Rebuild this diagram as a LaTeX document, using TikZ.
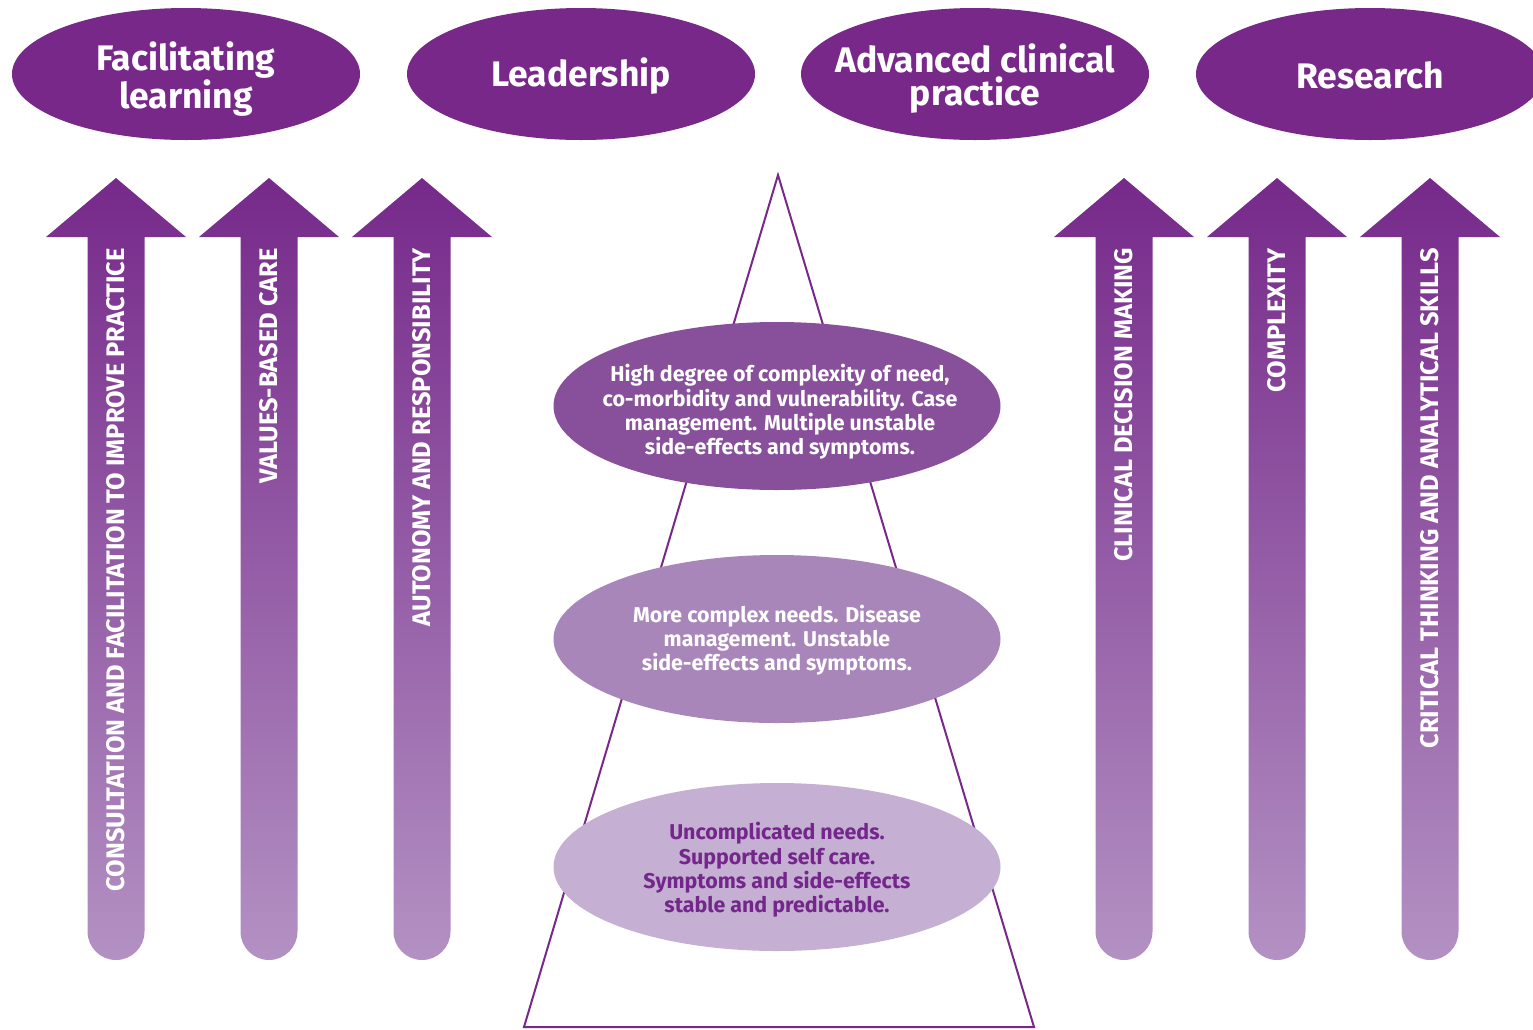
\documentclass[tikz,border=0pt]{standalone}
\usepackage{fontspec}
\setmainfont{Fira Sans}
\usetikzlibrary{shapes.geometric}
\definecolor{dpurple}{HTML}{772889}
\definecolor{arrtop}{HTML}{76298A}
\definecolor{arrbot}{HTML}{B391C3}
\definecolor{ellA}{HTML}{884F9A}
\definecolor{ellB}{HTML}{A886B9}
\definecolor{ellC}{HTML}{C5AFD3}
\definecolor{darktext}{HTML}{74278A}
\newcommand\myuparrow[1]{%
  \shade[top color=arrtop,bottom color=arrbot]
    (#1,178) -- ({#1+70},237) -- ({#1+28.5},237) -- ({#1+28.5},931.5)
    arc[start angle=0,end angle=180,radius=28.5]
    -- ({#1-28.5},237) -- ({#1-70},237) -- cycle;}
\begin{document}
\begin{tikzpicture}[x=1pt,y=-1pt,
  topell/.style={ellipse,fill=dpurple,minimum width=348pt,minimum height=132pt,inner sep=0pt},
  toptext/.style={text=white,align=center,inner sep=0pt,font=\bfseries\fontsize{35.5}{33}\selectfont},
  midell/.style={ellipse,minimum width=447pt,minimum height=168pt,inner sep=0pt},
  midtext/.style={align=center,inner sep=0pt,font=\bfseries\fontsize{21.4}{24.3}\selectfont},
  arrtext/.style={rotate=90,anchor=east,text=white,inner sep=0pt,
    font=\bfseries\fontsize{25.4}{25.4}\selectfont}]
\useasboundingbox (0,0) rectangle (1533,1029);
\clip (0,0) rectangle (1533,1029);
% top ellipses
\node[topell] (fl) at (186,74) {};
\node[topell] (ld) at (581,74) {};
\node[topell] (acp) at (975,74) {};
\node[topell] (rs) at (1370,74) {};
\node[toptext] (flt) at (186,79) {Facilitating\\learning};
\node[toptext] (ldt) at (581,76) {Leadership};
\node[toptext] (acpt) at (975,79) {Advanced clinical\\practice};
\node[toptext] (rst) at (1370,75) {Research};
% arrows
\myuparrow{116}
\myuparrow{269}
\myuparrow{422}
\myuparrow{1124}
\myuparrow{1277}
\myuparrow{1430}
\node[arrtext] (a1) at (116,248) {CONSULTATION AND FACILITATION TO IMPROVE PRACTICE};
\node[arrtext] (a2) at (269,248) {VALUES-BASED CARE};
\node[arrtext] (a3) at (422,248) {AUTONOMY AND RESPONSIBILITY};
\node[arrtext] (a4) at (1124,248) {CLINICAL DECISION MAKING};
\node[arrtext] (a5) at (1277,248) {COMPLEXITY};
\node[arrtext] (a6) at (1430,248) {CRITICAL THINKING AND ANALYTICAL SKILLS};
% triangle
\coordinate (apex) at (778,175);
\coordinate (bl) at (524,1027);
\coordinate (br) at (1034,1027);
\draw[dpurple,line width=2pt,line join=miter] (apex) -- (br) -- (bl) -- cycle;
% central ellipses
\node[midell,fill=ellA] (e1) at (777,406) {};
\node[midell,fill=ellB] (e2) at (777,639) {};
\node[midell,fill=ellC] (e3) at (777,867) {};
\node[midtext,text=white] (t1) at (780,412)
  {High degree of complexity of need,\\co-morbidity and vulnerability. Case\\management. Multiple unstable\\side-effects and symptoms.};
\node[midtext,text=white] (t2) at (777,640)
  {More complex needs. Disease\\management. Unstable\\side-effects and symptoms.};
\node[midtext,text=darktext] (t3) at (777,870)
  {Uncomplicated needs.\\Supported self care.\\Symptoms and side-effects\\stable and predictable.};
\end{tikzpicture}
\end{document}
